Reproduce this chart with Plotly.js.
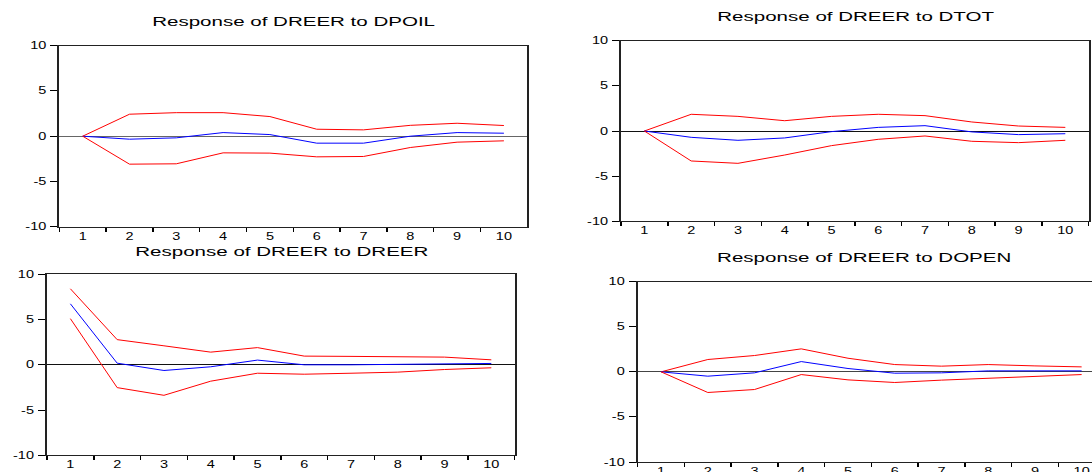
<!DOCTYPE html>
<html>
<head>
<meta charset="utf-8">
<script src="https://cdn.plot.ly/plotly-3.0.1.min.js"></script>
<style>
html, body { margin: 0; padding: 0; overflow: hidden; background: #fff; }
#chart { width: 1110px; height: 472px; }
</style>
</head>
<body>
<div id="chart"></div>
<script>
// ---- data ----
const periods = ['1','2','3','4','5','6','7','8','9','10'];

const dpoilUpper = [0, 2.43, 2.6, 2.6, 2.17, 0.77, 0.7, 1.2, 1.43, 1.18];
const dpoilResp  = [0, -0.33, -0.18, 0.4, 0.18, -0.77, -0.77, 0, 0.4, 0.33];
const dpoilLower = [0, -3.09, -3.05, -1.84, -1.87, -2.28, -2.24, -1.25, -0.66, -0.51];

const dtotUpper = [0, 1.85, 1.62, 1.14, 1.62, 1.85, 1.7, 1.0, 0.55, 0.4];
const dtotResp  = [0, -0.7, -1.03, -0.77, -0.07, 0.4, 0.59, -0.1, -0.4, -0.3];
const dtotLower = [0, -3.32, -3.58, -2.66, -1.62, -0.92, -0.55, -1.14, -1.29, -1.03];

const dreerUpper = [8.4, 2.78, 2.1, 1.4, 1.9, 0.96, 0.93, 0.85, 0.85, 0.55];
const dreerResp  = [6.74, 0.18, -0.63, -0.22, 0.52, 0, 0, 0.04, 0.15, 0.15];
const dreerLower = [5.1, -2.52, -3.37, -1.81, -0.93, -1.04, -0.93, -0.81, -0.52, -0.33];

const dopenUpper = [0, 1.37, 1.81, 2.55, 1.51, 0.81, 0.63, 0.81, 0.66, 0.55];
const dopenResp  = [0, -0.48, -0.11, 1.14, 0.37, -0.15, -0.11, 0.11, 0.11, 0.11];
const dopenLower = [0, -2.29, -1.96, -0.3, -0.89, -1.18, -0.92, -0.7, -0.52, -0.3];

const panelTitles = ['Response of DREER to DPOIL', 'Response of DREER to DTOT',
                     'Response of DREER to DREER', 'Response of DREER to DOPEN'];
const yTicks = [-10, -5, 0, 5, 10];

// ---- layout geometry (pixels) ----
const W = 1110, H = 472;
const boxes = [
  {x0: 59.3, x1: 527.3, y0: 45.7, y1: 226.7, zc: '#666', tx: 293, ty: 22},
  {x0: 621, x1: 1088.7, y0: 40.7, y1: 221.3, zc: '#111', tx: 855, ty: 16.5},
  {x0: 47, x1: 514.7, y0: 274.3, y1: 455.3, zc: '#111', tx: 282, ty: 251},
  {x0: 637.7, x1: 1105, y0: 281.7, y1: 462, zc: '#444', tx: 864, ty: 257.5}
];
const series = [
  [dpoilUpper, dpoilResp, dpoilLower],
  [dtotUpper, dtotResp, dtotLower],
  [dreerUpper, dreerResp, dreerLower],
  [dopenUpper, dopenResp, dopenLower]
];

const font = {family: 'Liberation Sans, Arial, sans-serif', color: '#000'};
const traces = [];
const layout = {
  width: W, height: H,
  margin: {l: 0, r: 0, t: 0, b: 0},
  paper_bgcolor: '#fff', plot_bgcolor: '#fff',
  showlegend: false,
  annotations: []
};

boxes.forEach((b, i) => {
  const n = i + 1;
  const xa = 'xaxis' + (n === 1 ? '' : n);
  const ya = 'yaxis' + (n === 1 ? '' : n);
  const xr = 'x' + (n === 1 ? '' : n);
  const yr = 'y' + (n === 1 ? '' : n);
  const cols = ['#ff0000', '#0000ff', '#ff0000'];
  series[i].forEach((s, k) => {
    traces.push({x: periods, y: s, xaxis: xr, yaxis: yr, type: 'scatter', mode: 'lines',
                 line: {color: cols[k], width: 1}, hoverinfo: 'skip'});
  });
  layout[xa] = {
    domain: [b.x0 / W, b.x1 / W], anchor: yr, type: 'category',
    range: [-0.5, 9.5], tickson: 'boundaries', ticks: 'outside', ticklen: 4,
    tickwidth: 1.5, tickcolor: '#000',
    showline: true, mirror: true, linecolor: '#222', linewidth: 1,
    showgrid: false, zeroline: false,
    tickfont: Object.assign({size: 10}, font), fixedrange: true
  };
  layout[ya] = {
    domain: [1 - b.y1 / H, 1 - b.y0 / H], anchor: xr,
    range: [-10, 10], tickvals: yTicks, ticktext: yTicks.map(String),
    ticks: 'outside', ticklen: 7, tickwidth: 1, tickcolor: '#000',
    showline: true, mirror: true, linecolor: '#222', linewidth: 2,
    showgrid: false, zeroline: true, zerolinecolor: b.zc, zerolinewidth: 1,
    ticklabelstandoff: 2,
    tickfont: Object.assign({size: 10}, font), fixedrange: true
  };
  layout.annotations.push({
    text: panelTitles[i], xref: 'paper', yref: 'paper',
    x: b.tx / W, y: 1 - b.ty / H, xanchor: 'center', yanchor: 'middle',
    showarrow: false, font: Object.assign({size: 13}, font)
  });
});

Plotly.newPlot('chart', traces, layout, {displayModeBar: false, staticPlot: true}).then(gd => {
  // horizontally stretch the text glyphs like the reference image
  gd.querySelectorAll('svg text').forEach(t => {
    const s = t.closest('.annotation') ? 1.58 : 1.45;
    const x = parseFloat(t.getAttribute('x') || '0');
    const prev = t.getAttribute('transform') || '';
    t.setAttribute('transform', prev + ' translate(' + x + ',0) scale(' + s + ',1) translate(' + (-x) + ',0)');
  });
});
</script>
</body>
</html>
